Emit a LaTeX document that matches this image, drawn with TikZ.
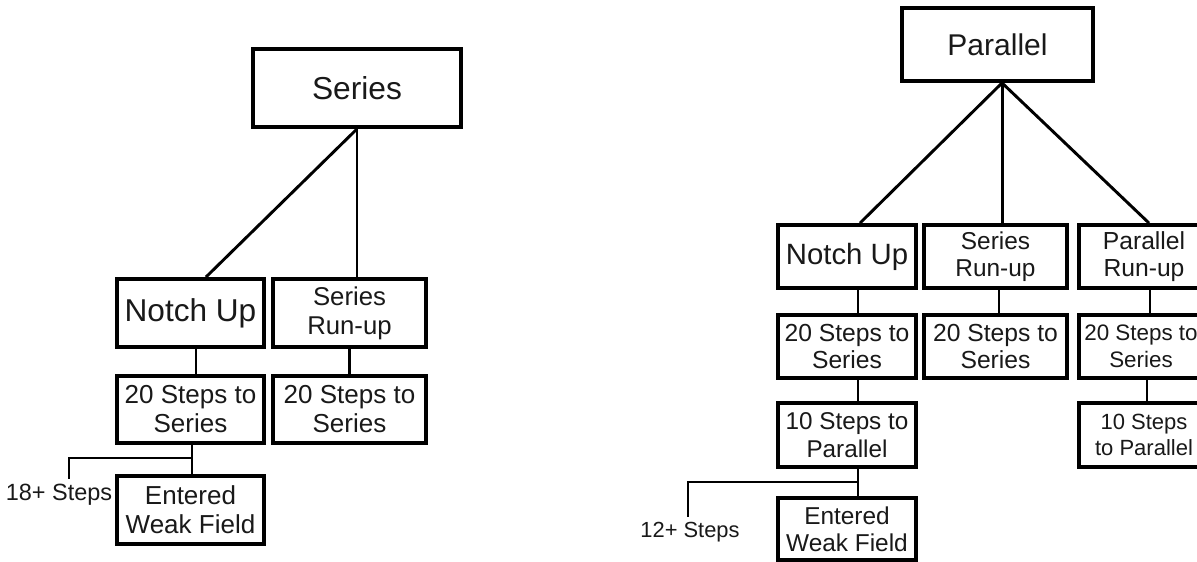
\documentclass[tikz,border=0pt]{standalone}
\usepackage{fontspec}
\setmainfont{Liberation Sans}
\begin{document}
\begin{tikzpicture}[x=0.75pt,y=-0.75pt,
  box/.style={draw=black,line width=2.9pt,rectangle,inner sep=0pt,align=center,text=black!90},
  conn/.style={draw=black,line width=2.2pt},
  lbl/.style={inner sep=0pt,text=black!90}]
\clip (0,0) rectangle (1197,561);
\fill[white] (0,0) rectangle (1197,561);
\newcommand\mybox[8]{\node[box,minimum width=#4*0.75pt,minimum height=#5*0.75pt,font=\fontsize{#6}{#7}\selectfont] (#1) at (#2,#3) {#8};}
% ---------- left tree ----------
\mybox{series}{357}{88}{208}{78}{23.8}{27}{Series}
\mybox{notchL}{190.5}{313}{147}{68}{23.7}{27}{Notch Up}
\mybox{srunL}{349.5}{313}{153}{68}{19.3}{21.7}{Series\\Run-up}
\mybox{stepsL}{190.5}{409.5}{147}{67}{19.5}{21.7}{20 Steps to\\Series}
\mybox{stepsLb}{349.5}{409.5}{153}{67}{19.5}{21.7}{20 Steps to\\Series}
\mybox{weakL}{190.5}{510}{147}{68}{19.5}{21.7}{Entered\\Weak Field}
\node[lbl,font=\fontsize{17.6}{20}\selectfont] (l18) at (59,495) {18+ Steps};
\draw[conn] (series.south) -- ([xshift=11.6pt]notchL.north);
\draw[conn] (series.south) -- (series.south |- srunL.north);
\draw[conn] ([xshift=4.1pt]notchL.south) -- ([xshift=4.1pt]stepsL.north);
\draw[conn] (srunL.south) -- (stepsLb.north);
\draw[conn] ([xshift=1.1pt]stepsL.south) -- ([xshift=1.1pt]weakL.north);
\coordinate (jL) at (192,458);
\coordinate (eL) at (69,479);
\draw[conn] (jL) -| (eL);
% ---------- right tree ----------
\mybox{parallel}{997.5}{44.5}{191}{73}{22.5}{26}{Parallel}
\mybox{notchR}{847}{256.5}{138}{63}{22}{25}{Notch Up}
\mybox{srunR}{995.5}{256.5}{143}{63}{18.3}{20.5}{Series\\Run-up}
\mybox{prunR}{1144}{256.5}{130}{63}{18.5}{20.5}{Parallel\\Run-up}
\mybox{stepsR}{847}{346.5}{138}{63}{18.5}{20.5}{20 Steps to\\Series}
\mybox{stepsRb}{995.5}{346.5}{143}{63}{18.5}{20.5}{20 Steps to\\Series}
\mybox{stepsRc}{1141}{346.5}{124}{63}{16.8}{20.5}{20 Steps to\\Series}
\mybox{parR}{847}{435}{138}{64}{18.2}{20.5}{10 Steps to\\Parallel}
\mybox{parRc}{1144}{435}{130}{64}{16.5}{20}{10 Steps\\to Parallel}
\mybox{weakR}{847}{529}{138}{62}{18.3}{20.5}{Entered\\Weak Field}
\node[lbl,font=\fontsize{16.4}{19}\selectfont] (l12) at (690,532) {12+ Steps};
\coordinate (pb) at ([xshift=3.4pt]parallel.south);
\draw[conn] (pb) -- ([xshift=9.75pt]notchR.north);
\draw[conn] (pb) -- (pb |- srunR.north);
\draw[conn] (pb) -- ([xshift=3.75pt]prunR.north);
\draw[conn] ([xshift=8.25pt]notchR.south) -- ([xshift=8.25pt]stepsR.north);
\draw[conn] ([xshift=2.6pt]srunR.south) -- ([xshift=2.6pt]stepsRb.north);
\draw[conn] ([xshift=4.5pt]prunR.south) -- ([xshift=6.75pt]stepsRc.north);
\draw[conn] ([xshift=4.5pt]stepsRc.south) -- ([xshift=2.25pt]parRc.north);
\draw[conn] ([xshift=8.25pt]parR.south) -- ([xshift=8.25pt]weakR.north);
\draw[conn] ([xshift=8.25pt]stepsR.south) -- ([xshift=8.25pt]parR.north);
\coordinate (jR) at (858,482);
\coordinate (eR) at (688,517);
\draw[conn] (jR) -| (eR);
\end{tikzpicture}
\end{document}
